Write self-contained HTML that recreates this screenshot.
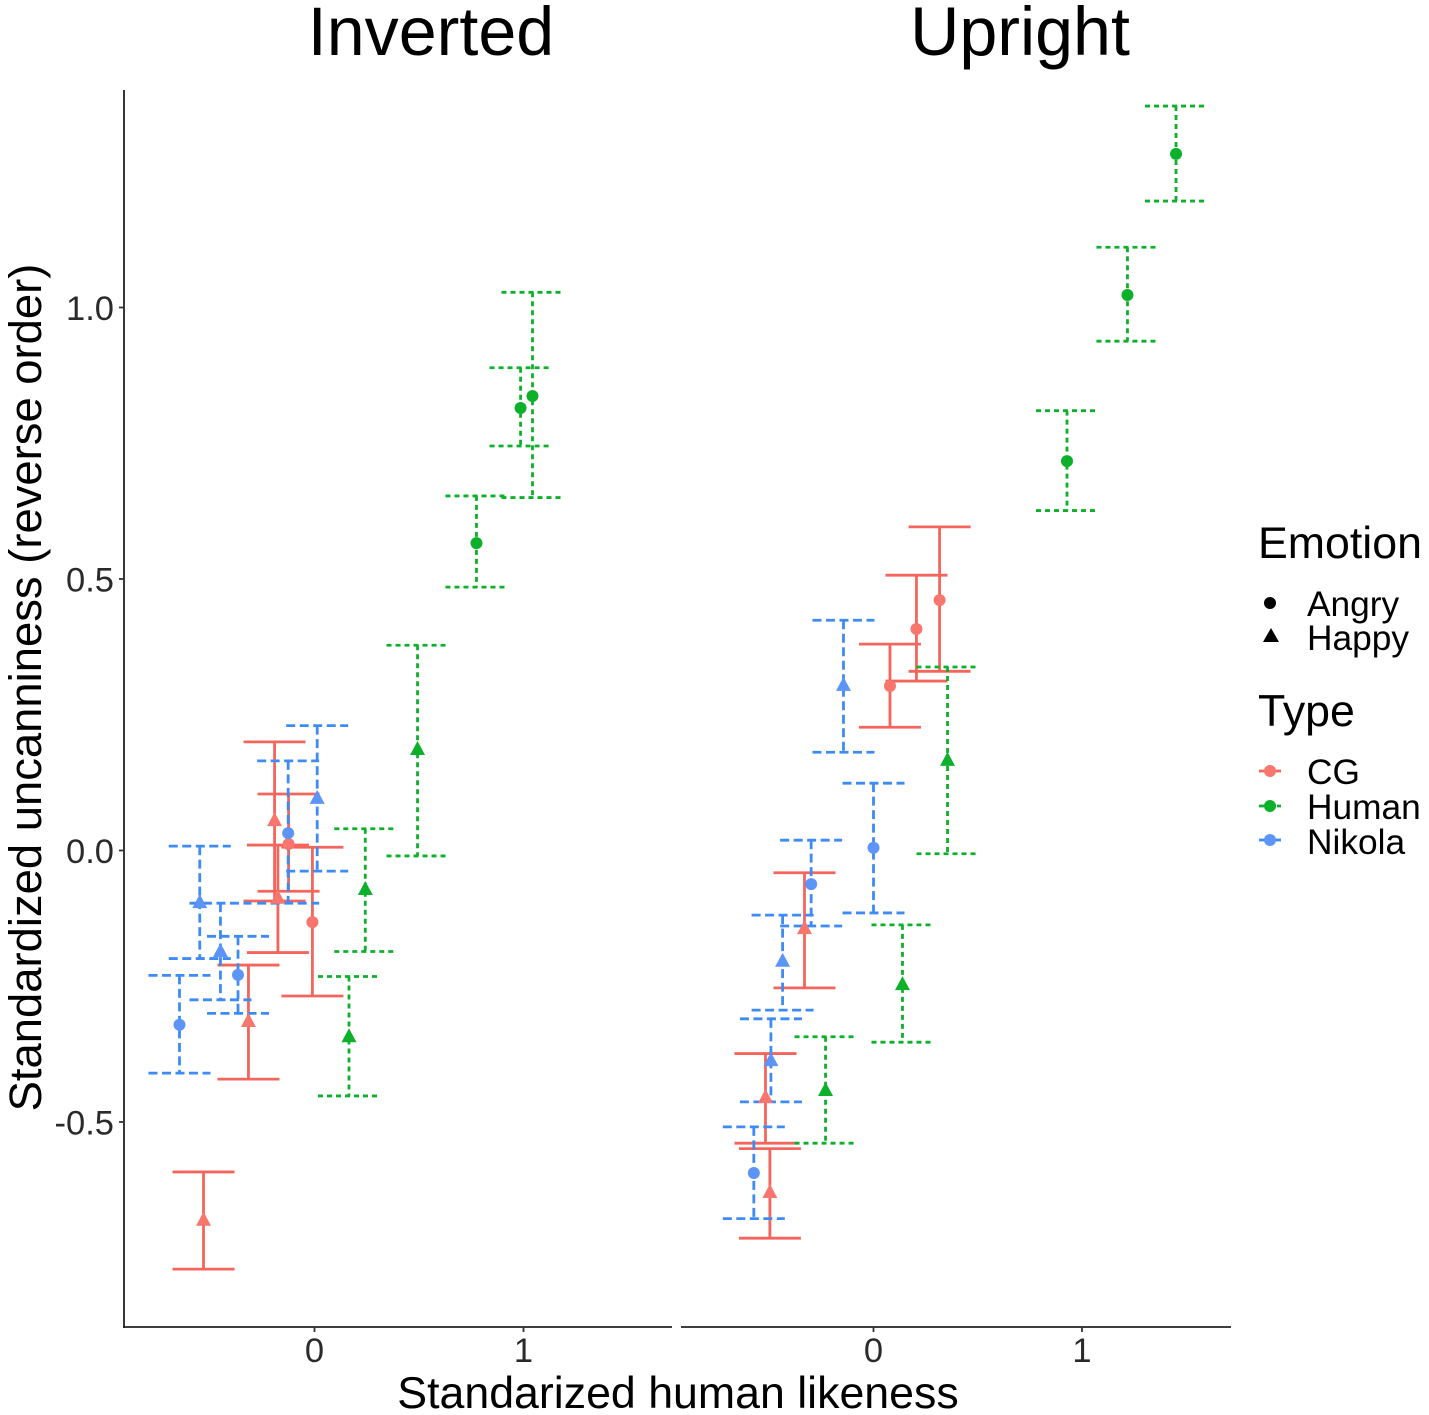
<!DOCTYPE html>
<html lang="en">
<head>
<meta charset="utf-8">
<title>Standardized uncanniness vs human likeness</title>
<style>
html,body{margin:0;padding:0;background:#fff;}
svg{display:block;}
text{font-family:"Liberation Sans",sans-serif;fill:#000;}
</style>
</head>
<body>
<svg id="chart" width="1429" height="1415" viewBox="0 0 1429 1415" xmlns="http://www.w3.org/2000/svg">
  <rect x="0" y="0" width="1429" height="1415" fill="#ffffff"/>
  <text x="431" y="55" font-size="68.2" text-anchor="middle">Inverted</text>
  <text x="1020" y="55" font-size="68.2" text-anchor="middle">Upright</text>
  <line x1="124" y1="90" x2="124" y2="1328" stroke="#222" stroke-width="1.8"/>
  <line x1="123" y1="1327" x2="672" y2="1327" stroke="#222" stroke-width="1.8"/>
  <line x1="681" y1="1327" x2="1231" y2="1327" stroke="#222" stroke-width="1.8"/>
  <g id="ticks"></g>
  <g id="bars"></g>
  <g id="points"></g>
  <text transform="translate(41,687.5) rotate(-90)" font-size="45.4" text-anchor="middle">Standardized uncanniness (reverse order)</text>
  <text x="678" y="1408" font-size="44.7" text-anchor="middle">Standarized human likeness</text>

  <g>
    <text x="1258" y="558" font-size="44.7">Emotion</text>
    <circle cx="1270" cy="603" r="6" fill="#000"/>
    <text x="1307" y="616" font-size="35.3">Angry</text>
    <polygon points="1271,628 1279,642 1263,642" fill="#000"/>
    <text x="1307" y="650" font-size="35.3">Happy</text>
    <text x="1258" y="726" font-size="44.7">Type</text>
    <line x1="1259" y1="771" x2="1281" y2="771" stroke="#F5655C" stroke-width="2.8"/>
    <circle cx="1270" cy="771" r="6" fill="#F8766D"/>
    <text x="1307" y="784" font-size="35.3">CG</text>
    <line x1="1259" y1="806" x2="1281" y2="806" stroke="#0DB02B" stroke-width="2.8" stroke-dasharray="5 4"/>
    <circle cx="1270" cy="806" r="6" fill="#0DB02B"/>
    <text x="1307" y="819" font-size="35.3">Human</text>
    <line x1="1259" y1="840" x2="1281" y2="840" stroke="#3E8BF5" stroke-width="2.8"/>
    <circle cx="1270" cy="840" r="6" fill="#5C94F8"/>
    <text x="1307" y="854" font-size="35.3">Nikola</text>
  </g>
</svg>
<script>
// Tick labels
const yTicks = [-0.5, 0, 0.5, 1];
const yTickLabels = ["-0.5", "0.0", "0.5", "1.0"];
const xTicks = [0, 1];
const xTickLabels = ["0", "1"];

// Inverted panel
const invCgX = [-0.531, -0.316, -0.191, -0.175, -0.124, -0.010];
const invCgY = [-0.680, -0.314, 0.056, -0.087, 0.012, -0.132];
const invCgHi = [-0.592, -0.211, 0.200, 0.010, 0.104, 0.006];
const invCgLo = [-0.771, -0.421, -0.093, -0.188, -0.075, -0.268];
const invCgEmotion = ["Happy", "Happy", "Happy", "Happy", "Angry", "Angry"];

const invHumanX = [0.165, 0.243, 0.493, 0.775, 0.986, 1.043];
const invHumanY = [-0.342, -0.071, 0.187, 0.566, 0.815, 0.837];
const invHumanHi = [-0.232, 0.040, 0.378, 0.653, 0.889, 1.028];
const invHumanLo = [-0.452, -0.186, -0.010, 0.485, 0.745, 0.650];
const invHumanEmotion = ["Happy", "Happy", "Happy", "Angry", "Angry", "Angry"];

const invNikolaX = [0.013, -0.126, -0.549, -0.450, -0.366, -0.646];
const invNikolaY = [0.097, 0.032, -0.095, -0.185, -0.229, -0.321];
const invNikolaHi = [0.230, 0.165, 0.008, -0.097, -0.158, -0.230];
const invNikolaLo = [-0.038, -0.097, -0.199, -0.275, -0.300, -0.410];
const invNikolaEmotion = ["Happy", "Angry", "Happy", "Happy", "Angry", "Angry"];

// Upright panel
const upCgX = [0.079, 0.206, 0.317, -0.331, -0.518, -0.497];
const upCgY = [0.303, 0.408, 0.461, -0.143, -0.454, -0.629];
const upCgHi = [0.380, 0.507, 0.596, -0.041, -0.374, -0.549];
const upCgLo = [0.227, 0.312, 0.330, -0.253, -0.539, -0.714];
const upCgEmotion = ["Angry", "Angry", "Angry", "Happy", "Happy", "Happy"];

const upHumanX = [1.451, 1.218, 0.928, 0.355, 0.139, -0.230];
const upHumanY = [1.283, 1.023, 0.717, 0.167, -0.246, -0.441];
const upHumanHi = [1.371, 1.111, 0.810, 0.338, -0.137, -0.343];
const upHumanLo = [1.196, 0.938, 0.626, -0.006, -0.353, -0.539];
const upHumanEmotion = ["Angry", "Angry", "Angry", "Happy", "Happy", "Happy"];

const upNikolaX = [-0.144, 0, -0.299, -0.436, -0.492, -0.574];
const upNikolaY = [0.305, 0.005, -0.062, -0.203, -0.386, -0.594];
const upNikolaHi = [0.424, 0.124, 0.019, -0.119, -0.310, -0.509];
const upNikolaLo = [0.181, -0.115, -0.139, -0.294, -0.463, -0.678];
const upNikolaEmotion = ["Happy", "Angry", "Angry", "Happy", "Happy", "Angry"];

const NS = "http://www.w3.org/2000/svg";
const ticksLayer = document.getElementById("ticks");
const barsLayer = document.getElementById("bars");
const pointsLayer = document.getElementById("points");

function xScaleInverted(v) { return 314.5 + v * 209; }
function xScaleUpright(v) { return 873.5 + v * 208.5; }
function yScale(v) { return 850.5 - v * 543; }

const capHalf = 31;
const styleCg = { stroke: "#F5655C", fill: "#F8766D", dash: null };
const styleHuman = { stroke: "#0DB02B", fill: "#0DB02B", dash: "5 4" };
const styleNikola = { stroke: "#3E8BF5", fill: "#5C94F8", dash: "9 4.5" };

function seg(parent, x1, y1, x2, y2, st, name, width) {
  const l = document.createElementNS(NS, "line");
  l.setAttribute("x1", x1);
  l.setAttribute("y1", y1);
  l.setAttribute("x2", x2);
  l.setAttribute("y2", y2);
  l.setAttribute("stroke", st.stroke);
  l.setAttribute("stroke-width", width || "2.8");
  if (st.dash) l.setAttribute("stroke-dasharray", st.dash);
  
  
  parent.appendChild(l);
}

function drawBars(xs, hi, lo, xScale, st, name) {
  xs.forEach(function (x, i) {
    const px = xScale(x);
    const t = yScale(hi[i]);
    const b = yScale(lo[i]);
    seg(barsLayer, px, t, px, b, st, name + "-error-stem");
    seg(barsLayer, px - capHalf, t, px + capHalf, t, st, name + "-error-cap-top");
    seg(barsLayer, px - capHalf, b, px + capHalf, b, st, name + "-error-cap-bottom");
  });
}

function drawPoints(xs, ys, emotions, xScale, st, name) {
  xs.forEach(function (x, i) {
    const px = xScale(x);
    const py = yScale(ys[i]);
    let m;
    if (emotions[i] === "Angry") {
      m = document.createElementNS(NS, "circle");
      m.setAttribute("cx", px);
      m.setAttribute("cy", py);
      m.setAttribute("r", "6");
    } else {
      m = document.createElementNS(NS, "polygon");
      m.setAttribute("points", px + "," + (py - 8) + " " + (px + 7.5) + "," + (py + 6) + " " + (px - 7.5) + "," + (py + 6));
    }
    m.setAttribute("fill", st.fill);
    
    
    pointsLayer.appendChild(m);
  });
}

function drawTickLabel(x, y, label, anchor, name) {
  const t = document.createElementNS(NS, "text");
  t.setAttribute("x", x);
  t.setAttribute("y", y);
  t.setAttribute("font-size", "34.5");
  t.setAttribute("text-anchor", anchor);
  t.setAttribute("style", "fill:#2a2a2a");
  t.textContent = label;
  
  
  ticksLayer.appendChild(t);
}

const tickStyle = { stroke: "#333", dash: null };
yTicks.forEach(function (v, i) {
  const py = yScale(v);
  seg(ticksLayer, 119, py, 124, py, tickStyle, "y-axis-tick", "1.8");
  drawTickLabel(114, py + 12.5, yTickLabels[i], "end", "y-tick-label");
});
[xScaleInverted, xScaleUpright].forEach(function (sc) {
  xTicks.forEach(function (v, i) {
    const px = sc(v);
    seg(ticksLayer, px, 1327, px, 1332, tickStyle, "x-axis-tick", "1.8");
    drawTickLabel(px, 1362, xTickLabels[i], "middle", "x-tick-label");
  });
});

drawBars(invCgX, invCgHi, invCgLo, xScaleInverted, styleCg, "inverted-cg");
drawBars(invHumanX, invHumanHi, invHumanLo, xScaleInverted, styleHuman, "inverted-human");
drawBars(invNikolaX, invNikolaHi, invNikolaLo, xScaleInverted, styleNikola, "inverted-nikola");
drawBars(upCgX, upCgHi, upCgLo, xScaleUpright, styleCg, "upright-cg");
drawBars(upHumanX, upHumanHi, upHumanLo, xScaleUpright, styleHuman, "upright-human");
drawBars(upNikolaX, upNikolaHi, upNikolaLo, xScaleUpright, styleNikola, "upright-nikola");

drawPoints(invCgX, invCgY, invCgEmotion, xScaleInverted, styleCg, "inverted-cg");
drawPoints(invHumanX, invHumanY, invHumanEmotion, xScaleInverted, styleHuman, "inverted-human");
drawPoints(invNikolaX, invNikolaY, invNikolaEmotion, xScaleInverted, styleNikola, "inverted-nikola");
drawPoints(upCgX, upCgY, upCgEmotion, xScaleUpright, styleCg, "upright-cg");
drawPoints(upHumanX, upHumanY, upHumanEmotion, xScaleUpright, styleHuman, "upright-human");
drawPoints(upNikolaX, upNikolaY, upNikolaEmotion, xScaleUpright, styleNikola, "upright-nikola");
</script>
</body>
</html>
